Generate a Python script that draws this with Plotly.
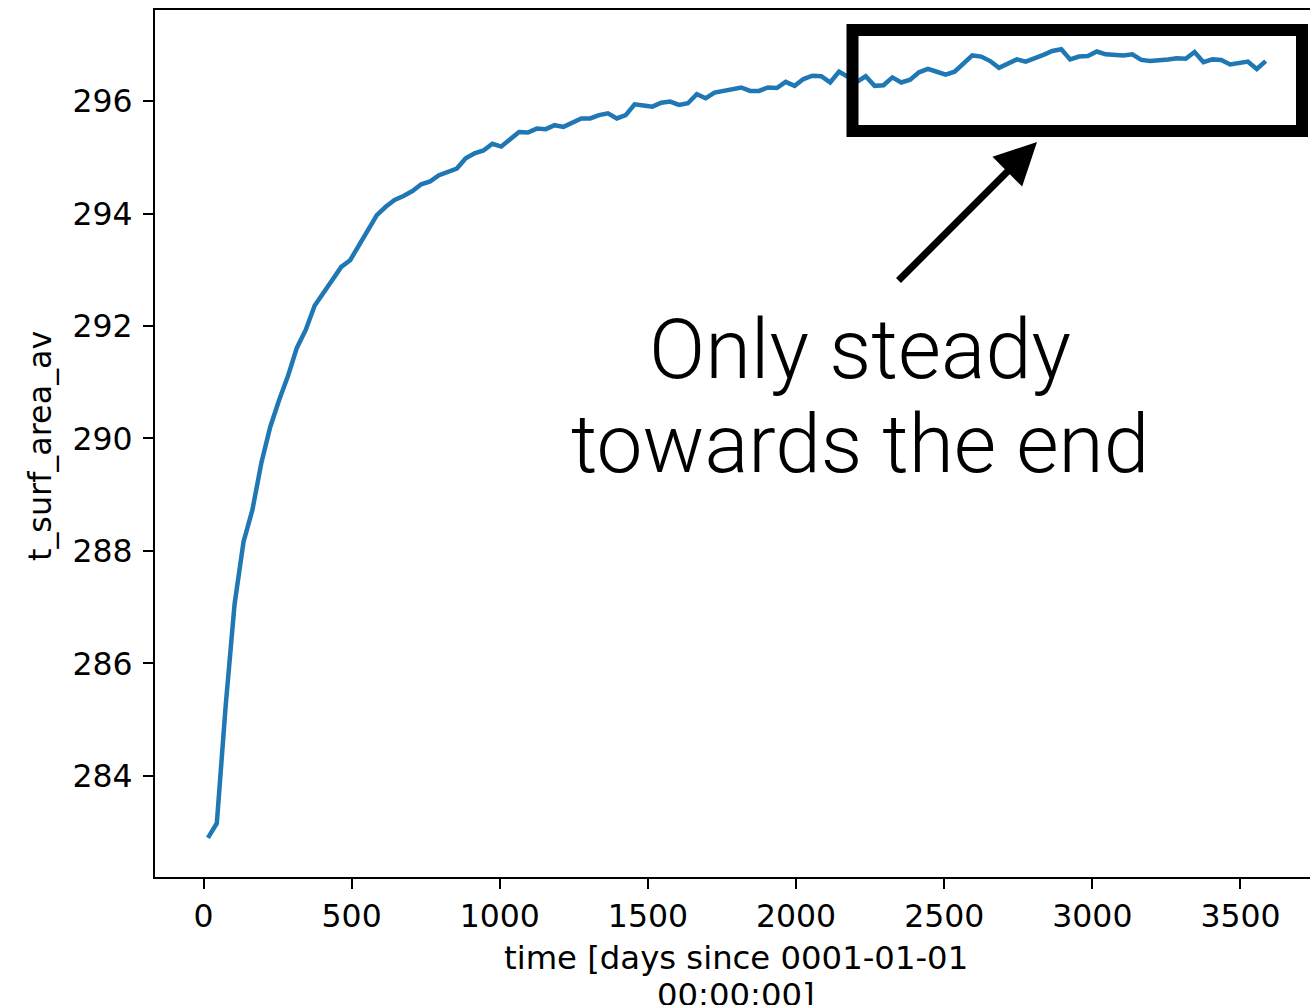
import plotly.graph_objects as go

# time axis (days since 0001-01-01), monthly means in a 360-day calendar
time_days = [
    15, 45, 75, 105, 135, 165, 195, 225, 255, 285, 315, 345,
    375, 405, 435, 465, 495, 525, 555, 585, 615, 645, 675, 705,
    735, 765, 795, 825, 855, 885, 915, 945, 975, 1005, 1035, 1065,
    1095, 1125, 1155, 1185, 1215, 1245, 1275, 1305, 1335, 1365, 1395, 1425,
    1455, 1485, 1515, 1545, 1575, 1605, 1635, 1665, 1695, 1725, 1755, 1785,
    1815, 1845, 1875, 1905, 1935, 1965, 1995, 2025, 2055, 2085, 2115, 2145,
    2175, 2205, 2235, 2265, 2295, 2325, 2355, 2385, 2415, 2445, 2475, 2505,
    2535, 2565, 2595, 2625, 2655, 2685, 2715, 2745, 2775, 2805, 2835, 2865,
    2895, 2925, 2955, 2985, 3015, 3045, 3075, 3105, 3135, 3165, 3195, 3225,
    3255, 3285, 3315, 3345, 3375, 3405, 3435, 3465, 3495, 3525, 3555, 3585,
]

t_surf_area_av = [
    282.90, 283.16, 285.26, 287.06, 288.16, 288.73, 289.56, 290.20, 290.68, 291.11,
    291.61, 291.93, 292.36, 292.59, 292.80, 293.05, 293.17, 293.44, 293.71, 293.97,
    294.12, 294.24, 294.31, 294.40, 294.52, 294.57, 294.68, 294.73, 294.80, 294.98,
    295.07, 295.12, 295.24, 295.19, 295.32, 295.45, 295.44, 295.51, 295.50, 295.57,
    295.54, 295.61, 295.69, 295.69, 295.75, 295.78, 295.69, 295.75, 295.94, 295.92,
    295.90, 295.97, 295.99, 295.93, 295.96, 296.12, 296.05, 296.15, 296.18, 296.21,
    296.24, 296.18, 296.18, 296.24, 296.23, 296.34, 296.27, 296.39, 296.45, 296.44,
    296.33, 296.52, 296.42, 296.34, 296.44, 296.27, 296.28, 296.42, 296.33, 296.38,
    296.51, 296.57, 296.52, 296.47, 296.52, 296.67, 296.81, 296.79, 296.71, 296.59,
    296.66, 296.74, 296.70, 296.75, 296.82, 296.89, 296.92, 296.74, 296.79, 296.80,
    296.88, 296.83, 296.82, 296.81, 296.83, 296.73, 296.71, 296.72, 296.74, 296.76,
    296.75, 296.87, 296.69, 296.74, 296.73, 296.65, 296.68, 296.70, 296.57, 296.71,
]

x_ticks = [0, 500, 1000, 1500, 2000, 2500, 3000, 3500]
y_ticks = [284, 286, 288, 290, 292, 294, 296]

x_title_1 = "time [days since 0001-01-01"
x_title_2 = "00:00:00]"
y_title = "t_surf_area_av"
note_1 = "Only steady"
note_2 = "towards the end"

FONT = "DejaVu Sans"
W, H = 1310, 1005
L, R, T, B = 155, 0, 10, 128
PW, PH = W - L - R, H - T - B


def px(xp):
    return (xp - L) / PW


def py(yp):
    return (H - B - yp) / PH


fig = go.Figure()
fig.add_trace(go.Scatter(
    x=time_days, y=t_surf_area_av, mode="lines",
    line=dict(color="#1f77b4", width=4.5), showlegend=False,
))

axis_common = dict(
    showgrid=False, zeroline=False, showline=True, linecolor="black", linewidth=2.4,
    ticks="outside", ticklen=10, tickwidth=2.4, tickcolor="black",
    tickfont=dict(family=FONT, size=31.5, color="black"),
)
fig.update_xaxes(range=[-163.7, 3734.6], tickvals=x_ticks, mirror=True, **axis_common)
fig.update_yaxes(range=[282.204, 297.618], tickvals=y_ticks, mirror=False,
                 ticklabelstandoff=4, **axis_common)

annotations = [
    dict(text=x_title_1, x=px(736), y=py(958), xref="paper", yref="paper",
         xanchor="center", yanchor="middle", showarrow=False,
         font=dict(family=FONT, size=32.3, color="black")),
    dict(text=x_title_2, x=px(736), y=py(995), xref="paper", yref="paper",
         xanchor="center", yanchor="middle", showarrow=False,
         font=dict(family=FONT, size=32.3, color="black")),
    dict(text=y_title, x=px(40), y=py(446), xref="paper", yref="paper",
         xanchor="center", yanchor="middle", textangle=-90, showarrow=False,
         font=dict(family=FONT, size=31.8, color="black")),
    dict(text=note_1, x=px(860), y=py(349), xref="paper", yref="paper",
         xanchor="center", yanchor="middle", showarrow=False,
         font=dict(family="Roboto", size=83, color="black", weight=300)),
    dict(text=note_2, x=px(860), y=py(444), xref="paper", yref="paper",
         xanchor="center", yanchor="middle", showarrow=False,
         font=dict(family="Roboto", size=82, color="black", weight=300)),
    dict(text="", x=px(1037), y=py(142), xref="paper", yref="paper",
         showarrow=True, ax=-140, ay=140, axref="pixel", ayref="pixel",
         arrowhead=2, arrowsize=1.2, arrowwidth=7, arrowcolor="black", standoff=0),
]

fig.add_shape(type="rect", xref="paper", yref="paper",
              x0=px(852.5), x1=px(1302), y0=py(131), y1=py(30),
              line=dict(color="black", width=12), fillcolor="rgba(0,0,0,0)", layer="above")

fig.update_layout(
    width=W, height=H, margin=dict(l=L, r=R, t=T, b=B),
    paper_bgcolor="white", plot_bgcolor="white",
    annotations=annotations, font=dict(family=FONT, color="black"),
)

fig.write_html("out.html")
